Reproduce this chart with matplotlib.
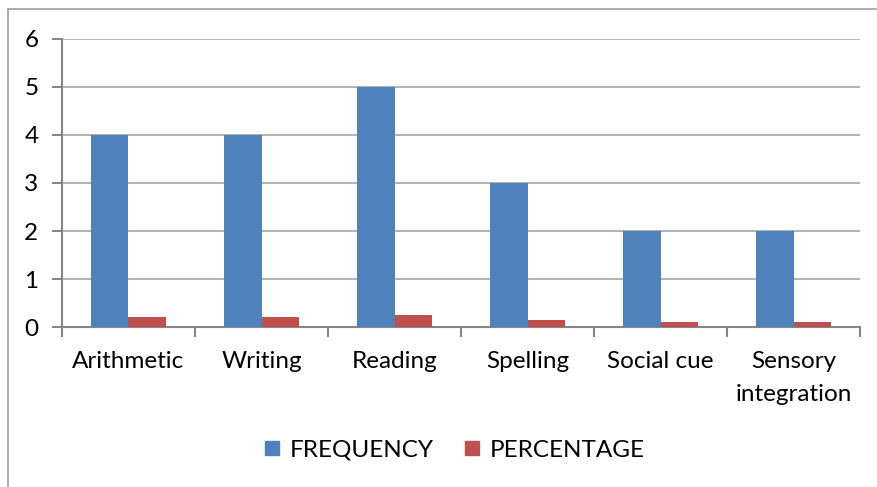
import numpy as np
import matplotlib.pyplot as plt
from matplotlib.lines import Line2D

categories = ["Arithmetic", "Writing", "Reading", "Spelling", "Social cue", "Sensory\nintegration"]
frequency = [4, 4, 5, 3, 2, 2]
percentage = [0.2, 0.2, 0.25, 0.15, 0.1, 0.1]

plt.rcParams['font.family'] = ['Lato', 'DejaVu Sans']

fig = plt.figure(figsize=(8.78, 4.87), dpi=100)
ax = fig.add_axes([0.0706, 0.3285, 0.909, 0.5915])

x = np.arange(len(categories))
w = 0.285
ax.bar(x - w / 2, frequency, w, color="#4F81BD", label="FREQUENCY", zorder=3)
ax.bar(x + w / 2, percentage, w, color="#C0504D", label="PERCENTAGE", zorder=3)

ax.set_xlim(-0.5, len(categories) - 0.5)
ax.set_ylim(0, 6)
ax.set_yticks(range(7))
ax.yaxis.grid(True, color="#A6A6A6", linewidth=1.2, zorder=0)
ax.set_axisbelow(True)

ax.set_xticks(x)
ax.set_xticklabels(categories, fontsize=17.5, linespacing=1.75)
ax.set_xticks(np.arange(-0.5, len(categories)), minor=True)
ax.tick_params(axis="x", which="major", length=0, pad=17)
ax.tick_params(axis="x", which="minor", length=7, width=1.5, color="#868686")
ax.tick_params(axis="y", length=7, width=1.5, color="#868686", labelsize=17.5, pad=10)

for s in ["top", "right"]:
    ax.spines[s].set_visible(False)
for s in ["left", "bottom"]:
    ax.spines[s].set_color("#868686")
    ax.spines[s].set_linewidth(1.5)

handles = [Line2D([], [], marker="s", linestyle="", markersize=10.5, color="#4F81BD"),
           Line2D([], [], marker="s", linestyle="", markersize=10.5, color="#C0504D")]
fig.legend(handles, ["FREQUENCY", "PERCENTAGE"], loc="center", bbox_to_anchor=(0.517, 0.075),
           ncol=2, frameon=False, fontsize=17.5, handlelength=0.7, handletextpad=0.4,
           columnspacing=1.2)

# outer chart frame (top and left edges visible)
fig.add_artist(Line2D([8 / 878, 8 / 878], [0, 1 - 9 / 487], color="#A0A0A0", linewidth=1.2))
fig.add_artist(Line2D([8 / 878, 1], [1 - 9 / 487, 1 - 9 / 487], color="#A0A0A0", linewidth=1.2))

fig.savefig("out.png", dpi=100)
